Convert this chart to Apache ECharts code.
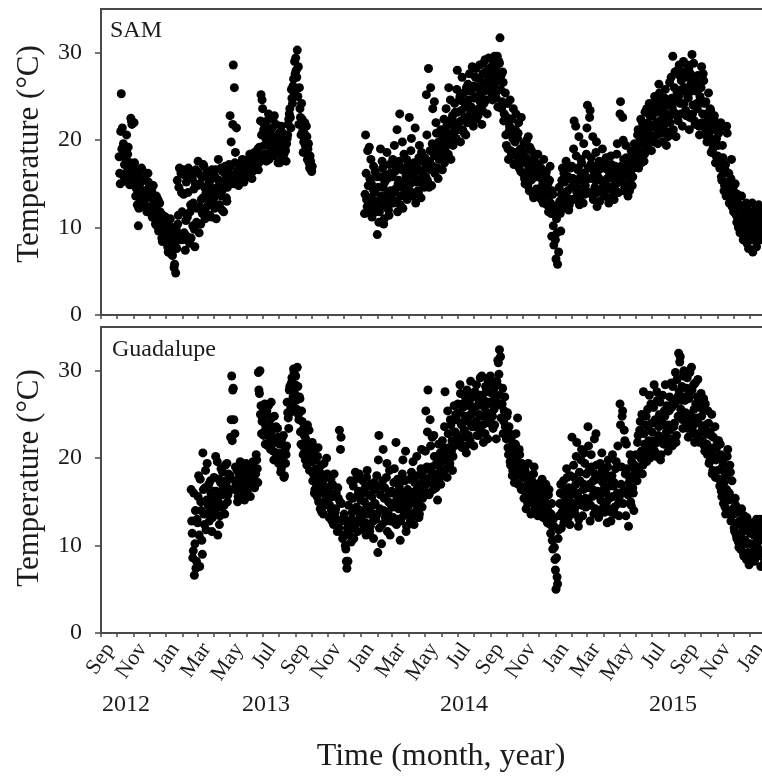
<!DOCTYPE html>
<html>
<head>
<meta charset="utf-8">
<script src="https://cdn.jsdelivr.net/npm/echarts@6/dist/echarts.min.js"></script>
<style>
  html, body { margin: 0; padding: 0; background: #fff; overflow: hidden; }
  /* the plot frame runs past the right edge of the window */
  #chart { width: 772px; height: 777px; }
</style>
</head>
<body>
<div id="chart"></div>
<script>
// Water temperature readings. Each list holds one value every STEP_DAYS days
// from its start date; the "…2" lists hold the readings of the days in between.
const STEP_DAYS = 2;

const panelNames = ['SAM', 'Guadalupe'];
const monthNames = ['Jan', 'Feb', 'Mar', 'Apr', 'May', 'Jun', 'Jul', 'Aug', 'Sep', 'Oct', 'Nov', 'Dec'];
const yearLabels = ['2012', '2013', '2014', '2015'];
const yTicks = [0, 10, 20, 30];
const axisStartDate = '2012-09-01';
const axisEndDate = '2016-02-11';

// SAM, first deployment
const samStartA = '2012-10-05';
const samTempsA = [
  18.1, 15.0, 25.3, 21.4, 19.6, 17.2, 15.3, 20.6, 18.4, 16.6, 14.9, 22.5, 21.8, 17.0,
  22.0, 16.4, 14.5, 12.6, 10.2, 15.8, 13.2, 16.8, 14.0, 12.4, 15.6, 13.8, 11.8, 16.2, 14.6,
  12.0, 13.4, 11.2, 14.8, 12.6, 10.4, 13.6, 11.6, 9.6, 12.8, 10.8, 8.8, 11.4, 9.2, 10.6,
  8.4, 10.2, 7.2, 9.6, 11.0, 8.0, 6.8, 9.0, 5.8, 4.8, 7.6, 10.4, 14.6, 8.6, 16.2, 11.8,
  16.6, 9.4, 7.4, 15.2, 11.2, 16.8, 8.2, 12.6, 16.4, 10.2, 14.4, 7.8, 16.6, 12.2,
  17.6, 9.4, 15.0, 13.2, 11.6, 17.2, 14.6, 12.2, 16.0, 13.8, 15.4, 11.4, 14.2, 16.6, 12.8,
  13.4, 15.8, 11.0, 14.6, 17.8, 12.6, 15.2, 13.6, 16.4, 11.8, 14.8, 16.0, 13.0, 15.6, 17.2,
  22.8, 19.8, 15.6, 28.6, 26.0, 18.6, 21.4, 16.2, 14.8, 17.0, 15.4, 16.6, 17.6, 15.2, 16.8, 17.4,
  16.0, 17.8, 15.8, 16.6, 18.2, 16.4, 17.2, 18.6, 16.8, 17.6, 19.0, 17.4, 18.0, 25.2, 24.6,
  22.0, 19.4, 21.6, 17.6, 20.8, 23.0, 18.6, 21.2, 19.8, 22.4, 18.2, 20.4, 21.8, 19.2, 17.4,
  20.8, 18.6, 21.6, 19.4, 17.8, 20.2, 18.8, 19.6, 20.6, 22.4, 23.6, 21.4, 24.8, 26.2, 25.4, 27.6,
  28.0, 30.3, 28.4, 26.0, 22.6, 24.2, 21.0, 19.8, 22.0, 18.8, 20.4, 19.0, 17.4, 18.2, 16.6,
  17.0
];
const samStartA2 = '2012-10-06';
const samTempsA2 = [
  16.2, 21.0, 19.0, 16.0, 18.6, 15.6, 17.8, 16.4, 19.2, 15.8, 17.4, 22.2, 16.8,
  15.2, 17.4, 13.6, 16.0, 14.8, 12.2, 15.0, 13.0, 16.6, 12.8, 14.2, 15.4, 13.4, 12.4, 15.2,
  13.8, 11.8, 14.2, 12.2, 13.0, 11.0, 12.4, 10.2, 13.2, 9.8, 11.8, 10.0, 8.4, 10.8, 9.0, 11.2,
  9.4, 7.8, 10.8, 8.8, 7.0, 10.0, 7.4, 5.4, 8.2, 9.8, 15.4, 11.4, 16.8, 9.2, 14.0,
  8.6, 13.8, 16.0, 10.8, 9.0, 14.0, 16.2, 11.8, 8.8, 15.6, 12.8, 9.8, 15.0, 10.6,
  14.8, 16.2, 12.4, 10.4, 15.8, 13.4, 17.0, 11.0, 14.0, 16.4, 12.6, 15.0, 13.0, 11.2, 15.6, 14.4,
  12.2, 16.6, 14.2, 12.4, 15.4, 13.8, 16.8, 12.0, 14.4, 15.0, 17.0, 13.4, 14.6, 16.2, 15.0,
  17.0, 16.0, 21.8, 15.0, 17.4, 15.8, 16.4, 15.0, 17.2, 16.0, 15.6, 17.8, 16.2, 17.0, 15.8,
  17.4, 16.2, 17.0, 18.4, 17.2, 15.6, 17.8, 16.6, 18.2, 17.0, 18.6, 16.6, 19.2, 22.2, 20.6,
  23.6, 21.2, 18.4, 20.2, 22.2, 19.6, 17.8, 20.6, 18.8, 21.4, 19.0, 22.8, 18.4, 20.0, 18.6, 19.4,
  17.4, 19.8, 18.2, 20.8, 18.4, 19.2, 17.6, 20.2, 21.8, 23.0, 22.6, 25.8, 24.2, 27.0, 29.0,
  29.4, 27.2, 25.0, 21.8, 23.6, 20.6, 22.4, 18.6, 20.8, 19.4, 21.6, 17.8, 19.6, 16.8, 17.6,
  16.4
];

// SAM, second deployment
const samStartB = '2014-01-08';
const samTempsB = [
  11.6, 20.6, 13.2, 18.8, 12.0, 15.6, 17.8, 11.2, 14.4, 12.6, 16.4, 13.0,
  9.2, 14.6, 11.8, 19.0, 13.6, 16.8, 10.4, 15.2, 12.4, 18.6, 14.0, 11.4, 16.2, 13.4,
  15.8, 12.8, 19.4, 14.4, 17.0, 11.8, 15.4, 23.0, 13.6, 16.6, 12.2, 18.4, 14.8, 16.0, 13.2, 17.4,
  22.6, 15.0, 20.2, 13.8, 17.2, 15.6, 12.8, 16.4, 14.2, 18.0, 15.4, 13.4, 17.6, 16.2, 14.6,
  16.8, 25.2, 15.4, 28.2, 17.6, 26.0, 14.8, 23.6, 18.4, 16.2, 22.0, 19.0, 15.6, 17.8, 19.6,
  18.2, 16.6, 20.4, 17.4, 19.2, 21.6, 18.0, 26.0, 20.0, 17.8, 22.4, 19.4, 21.0, 23.2, 20.2,
  28.0, 22.0, 24.6, 19.8, 23.4, 21.2, 25.4, 22.6, 20.6, 24.0, 26.4, 22.8, 25.6, 23.8, 28.4, 21.6,
  24.8, 27.2, 22.4, 26.0, 23.6, 28.6, 25.2, 21.8, 27.6, 24.2, 29.2, 26.6, 23.0, 28.0, 25.8,
  26.0, 28.4, 24.6, 27.2, 29.6, 25.4, 28.6, 23.8, 29.0, 31.7, 27.4, 24.4, 26.6, 23.0, 25.4,
  19.4, 24.2, 17.8, 21.6, 18.8, 22.4, 20.2, 17.2, 19.8, 23.0, 18.2, 20.8, 16.8, 19.0, 22.6, 17.6,
  18.6, 15.6, 17.4, 20.0, 14.8, 16.8, 19.2, 15.4, 17.8, 13.8, 16.4, 18.2, 14.4, 15.8, 17.2,
  14.0, 16.6, 13.2, 15.4, 17.8, 14.6, 16.0, 12.6, 15.0, 13.6, 17.0, 11.6, 14.2, 10.2, 12.4,
  8.6, 11.0, 5.8, 7.2, 13.0, 9.6, 15.4, 12.2, 16.2, 14.0, 17.6, 13.4, 15.8, 12.6, 16.8, 14.6,
  13.2, 19.0, 15.2, 21.6, 14.0, 16.6, 20.4, 13.6, 17.8, 15.4, 12.8, 16.2, 14.8, 18.4,
  24.0, 15.6, 22.6, 17.2, 13.8, 20.4, 16.4, 14.6, 18.6, 12.4, 15.8, 17.6, 14.2, 16.8, 19.0,
  15.2, 13.6, 17.4, 14.8, 16.6, 12.8, 15.8, 18.2, 14.4, 16.2, 13.2, 17.0, 15.0, 19.6, 14.0,
  16.4, 24.4, 15.2, 22.6, 17.8, 14.6, 19.4, 16.0, 13.6, 17.2, 15.4, 18.8, 14.8, 16.8, 19.6, 17.4,
  18.6, 20.6, 16.8, 19.8, 22.4, 18.2, 21.0, 17.6, 23.2, 20.2, 19.0, 22.0, 24.2, 20.6, 18.8,
  22.8, 20.0, 25.0, 21.4, 23.8, 19.6, 26.4, 22.2, 24.6, 20.8, 23.4, 21.8, 25.8, 19.4, 24.0,
  22.6, 26.6, 21.0, 24.8, 29.6, 23.2, 27.8, 20.4, 25.4, 22.2, 28.6, 24.2, 26.8, 21.6, 29.0, 25.6,
  23.4, 27.2, 25.0, 28.2, 22.6, 26.4, 29.8, 24.0, 27.0, 21.8, 25.6, 23.6, 26.2, 20.6, 24.6,
  28.4, 23.0, 26.8, 21.4, 24.4, 19.8, 22.6, 20.6, 23.6, 18.6, 21.2, 19.4, 22.8, 17.4, 20.2,
  18.2, 20.8, 16.8, 22.0, 15.4, 18.0, 14.2, 16.6, 13.6, 20.8, 15.2, 12.8, 14.6, 17.8, 13.2,
  11.8, 14.0, 12.4, 10.6, 13.4, 11.2, 9.4, 12.2, 10.4, 8.6, 11.6, 9.8, 12.8, 10.2, 7.6, 11.0,
  9.0, 10.8, 7.2, 11.4, 9.6, 12.2, 8.4, 10.2, 11.8, 9.2, 10.6, 12.4, 8.8, 11.2, 10.0,
  11.6, 9.6, 12.0, 10.4, 11.0, 9.8
];
const samStartB2 = '2014-01-09';
const samTempsB2 = [
  13.8, 16.2, 12.4, 14.8, 19.2, 13.4, 15.0, 12.8, 17.0, 14.0, 11.8, 15.8,
  13.0, 10.6, 15.8, 12.6, 17.6, 14.6, 11.0, 16.0, 13.2, 15.6, 12.0, 17.2, 14.2, 12.8,
  17.8, 14.0, 16.4, 13.0, 21.2, 15.0, 17.6, 12.6, 14.6, 19.8, 16.8, 13.8, 15.6, 17.8, 14.8,
  16.6, 14.2, 18.8, 16.0, 13.6, 17.4, 21.4, 15.2, 16.8, 14.0, 19.4, 16.4, 18.6, 15.0, 17.8,
  18.0, 15.8, 20.6, 17.2, 14.6, 18.8, 16.6, 19.6, 17.0, 24.4, 18.2, 20.8, 16.8, 19.8, 18.6, 21.2,
  20.6, 18.8, 22.4, 19.6, 23.6, 20.8, 18.4, 21.8, 24.6, 19.8, 22.8, 20.4, 24.2, 21.8, 25.8,
  23.2, 21.2, 25.0, 22.2, 27.2, 24.4, 20.8, 23.8, 26.0, 22.0, 24.6, 27.6, 23.4, 25.8, 22.2,
  26.2, 23.2, 28.2, 25.0, 22.8, 27.0, 24.4, 26.4, 23.4, 28.8, 25.6, 27.8, 24.6, 26.8, 29.4, 27.0,
  27.4, 25.2, 29.2, 26.2, 28.0, 24.8, 29.6, 26.8, 28.8, 25.8, 23.6, 27.8, 22.2, 24.2, 20.6,
  22.6, 19.0, 21.0, 24.6, 18.2, 20.6, 23.6, 18.6, 21.2, 17.4, 20.2, 22.0, 18.0, 16.4, 18.8,
  16.2, 19.6, 15.0, 18.0, 16.0, 20.4, 14.2, 17.0, 18.8, 15.6, 13.4, 17.6, 16.6, 14.0, 18.4,
  15.8, 13.4, 16.8, 14.8, 12.8, 15.6, 13.8, 16.4, 14.4, 11.8, 15.4, 12.8, 9.0, 13.8, 8.0, 11.6,
  6.4, 9.4, 12.2, 14.6, 11.6, 13.8, 16.8, 12.8, 15.2, 13.6, 17.0, 14.2, 12.0, 15.6, 13.2,
  17.0, 15.6, 22.2, 13.2, 18.2, 14.6, 16.8, 12.6, 15.8, 17.4, 14.0, 19.6, 13.8, 15.8,
  21.4, 16.8, 14.0, 23.4, 18.0, 15.6, 13.2, 17.0, 15.4, 19.8, 14.0, 16.6, 13.0, 15.4, 17.4, 14.6,
  16.8, 14.2, 18.0, 15.6, 13.4, 16.4, 14.6, 17.2, 15.6, 13.8, 16.8, 14.2, 18.4, 15.4, 16.2,
  23.0, 17.0, 15.8, 20.0, 14.2, 16.6, 18.0, 15.0, 17.4, 14.2, 16.2, 18.0, 15.8, 17.6, 18.4,
  19.4, 17.6, 21.2, 18.8, 20.4, 17.4, 22.0, 19.6, 18.4, 21.6, 23.6, 19.2, 21.4, 22.8, 20.0,
  21.6, 23.4, 19.8, 24.6, 22.0, 20.6, 23.2, 25.4, 21.2, 23.8, 19.8, 22.6, 24.8, 21.0, 23.0, 20.4,
  24.2, 22.0, 27.2, 23.8, 21.2, 26.0, 24.6, 22.8, 28.0, 25.0, 27.4, 23.0, 25.8, 27.8, 24.2,
  26.0, 22.8, 28.6, 24.8, 21.2, 27.6, 25.6, 23.0, 28.8, 22.2, 26.6, 24.2, 27.4, 21.6, 25.0,
  26.0, 22.0, 27.6, 24.2, 20.6, 23.0, 21.8, 25.4, 20.0, 23.4, 21.6, 19.0, 22.4, 20.0, 18.2, 21.6,
  19.4, 17.2, 21.4, 15.8, 19.4, 16.2, 14.8, 17.2, 21.6, 14.0, 16.2, 13.6, 15.6, 12.4, 14.6,
  12.8, 15.0, 11.4, 13.8, 10.0, 12.6, 11.0, 13.6, 9.2, 11.2, 12.6, 10.6, 8.2, 12.0, 9.6,
  11.0, 8.6, 12.8, 10.4, 9.2, 11.6, 7.8, 10.8, 12.6, 9.8, 11.4, 8.6, 12.0, 10.4, 9.6, 11.8,
  10.2, 12.2, 9.4, 11.2, 10.6
];

// Guadalupe
const guaStart = '2013-02-17';
const guaTemps = [
  16.4, 11.4, 9.4, 6.6, 14.0, 8.2,
  12.6, 18.0, 7.6, 15.0, 10.6, 20.6, 13.6, 16.6, 11.8, 19.4, 14.6, 12.8, 17.4, 15.6, 13.2, 16.2,
  14.2, 20.2, 15.4, 11.2, 17.6, 13.4, 18.8, 15.8, 16.8, 14.6, 19.2, 17.2, 15.0, 18.2, 16.4,
  22.4, 29.4, 27.8, 24.4, 22.8, 17.0, 18.6, 15.6, 17.8, 19.6, 16.2, 18.2, 17.0, 15.2, 18.8,
  17.6, 16.4, 19.2, 17.2, 18.4, 16.8, 19.6, 18.0, 17.4, 20.4, 18.8, 29.8, 27.4, 25.0, 22.8,
  24.6, 22.6, 26.2, 23.6, 25.4, 21.4, 24.0, 22.2, 26.4, 23.2, 20.8, 24.8, 22.0, 20.2, 23.4, 19.4,
  21.6, 18.4, 22.2, 19.8, 17.8, 21.0, 20.4, 26.4, 24.6, 27.8, 25.2, 28.6, 26.0, 30.2, 27.4,
  29.4, 25.6, 28.2, 24.4, 26.8, 21.6, 24.2, 20.4, 22.6, 19.8, 21.8, 23.8, 20.2, 18.6, 21.0,
  19.6, 17.4, 20.6, 16.4, 18.8, 15.6, 21.2, 17.8, 14.2, 19.2, 16.8, 13.6, 18.0, 15.2, 20.0, 16.0,
  16.4, 14.6, 17.6, 12.8, 15.6, 18.2, 13.8, 16.0, 11.6, 15.4, 23.2, 21.0, 14.8, 10.8, 13.2,
  11.2, 9.6, 7.4, 8.2, 12.6, 15.6, 10.4, 13.8, 16.8, 12.0, 18.4, 14.4, 11.6, 16.2, 13.2,
  15.2, 12.6, 17.4, 14.0, 16.6, 11.2, 18.6, 13.6, 15.8, 12.2, 17.0, 14.6, 10.8, 16.4, 13.0, 18.0,
  9.2, 22.6, 14.2, 16.8, 12.4, 21.0, 15.4, 13.2, 17.8, 11.6, 15.0, 18.6, 12.8, 16.2,
  14.4, 17.2, 12.6, 21.8, 15.6, 13.0, 16.8, 10.6, 14.8, 18.2, 13.4, 15.8, 20.8, 12.2, 16.4,
  14.6, 17.6, 13.2, 15.8, 19.6, 12.4, 16.2, 14.0, 18.0, 15.0, 13.6, 17.0, 21.0, 15.4, 18.6,
  16.8, 25.4, 19.0, 27.8, 15.8, 24.4, 18.0, 22.4, 16.4, 20.2, 17.6, 19.4, 15.2, 21.6, 18.4, 17.0,
  19.6, 18.2, 21.2, 27.6, 20.0, 17.8, 22.8, 19.0, 24.4, 20.8, 18.6, 23.0, 21.4, 25.0, 22.2,
  26.2, 22.0, 28.4, 24.0, 21.2, 25.8, 23.2, 27.0, 20.6, 24.8, 22.6, 26.6, 28.8, 23.6, 25.4,
  21.4, 27.6, 24.2, 22.6, 26.8, 25.0, 29.2, 23.0, 27.2, 21.8, 25.8, 28.2, 24.4, 22.2, 26.4, 28.6,
  24.6, 27.4, 23.4, 25.6, 26.8, 22.2, 28.4, 30.9, 32.4, 31.6, 26.0, 28.0, 24.2, 27.0, 25.0,
  24.8, 21.2, 23.6, 19.6, 22.2, 18.0, 20.8, 17.2, 21.6, 19.0, 24.6, 18.4, 20.4, 16.8, 19.4,
  17.8, 15.4, 18.6, 14.2, 16.8, 19.4, 15.0, 17.2, 13.8, 16.2, 18.2, 14.6, 15.8, 17.0, 13.4,
  16.4, 14.0, 15.6, 17.6, 13.2, 15.2, 16.8, 14.4, 12.6, 15.8, 13.6, 11.4, 14.8, 9.6, 12.2, 8.4,
  5.0, 6.4, 10.8, 13.4, 16.0, 12.0, 14.6, 17.4, 13.0, 15.4, 18.8, 14.2, 16.6, 12.4, 15.8,
  22.4, 14.8, 17.8, 13.6, 20.2, 16.0, 12.2, 18.4, 15.0, 21.0, 13.4, 17.0, 19.4, 14.4,
  16.6, 23.6, 18.6, 12.8, 20.4, 15.6, 17.4, 22.2, 14.2, 19.2, 16.2, 13.2, 18.0, 15.2, 20.6, 17.2,
  14.6, 18.4, 16.0, 12.6, 19.8, 15.4, 17.6, 13.8, 20.4, 16.8, 14.4, 18.8, 15.6, 21.4, 13.4,
  26.2, 17.0, 24.8, 14.8, 23.2, 18.2, 21.6, 16.4, 12.2, 17.8, 15.0, 19.6, 16.6, 14.0, 18.6,
  20.4, 17.4, 22.6, 19.0, 24.2, 20.8, 18.2, 27.6, 21.6, 23.8, 19.6, 25.6, 22.0, 20.0, 26.2,
  23.0, 21.2, 28.4, 24.4, 20.2, 26.6, 22.6, 25.0, 19.8, 23.8, 27.2, 21.6, 24.8, 22.2, 26.0, 20.8,
  25.4, 23.2, 28.6, 21.4, 26.4, 24.0, 29.8, 22.6, 27.0, 32.0, 31.0, 25.6, 28.2, 23.4, 30.0,
  26.6, 24.2, 29.2, 22.4, 27.4, 25.0, 30.4, 23.6, 28.4, 21.8, 26.2, 24.6, 29.0, 22.8, 25.8,
  27.4, 23.2, 25.6, 21.4, 26.2, 22.8, 20.4, 24.0, 19.6, 22.6, 25.0, 18.6, 21.2, 23.6, 19.8, 22.0,
  20.2, 17.6, 21.6, 16.2, 19.0, 14.8, 18.4, 13.6, 16.4, 21.0, 15.2, 19.2, 12.8, 17.4, 14.2,
  12.0, 15.4, 11.2, 13.8, 10.4, 12.8, 9.6, 14.2, 11.6, 8.8, 12.4, 10.2, 13.2, 9.2, 7.8,
  11.4, 9.0, 12.6, 10.0, 8.2, 11.8, 13.0, 9.8, 12.2, 10.6, 7.6, 11.0, 12.8, 9.4, 10.8, 12.0,
  10.4, 11.6, 9.8, 12.2, 10.8
];
const guaStart2 = '2013-02-18';
const guaTemps2 = [
  12.8, 8.6, 16.0, 10.2, 7.4, 13.0,
  15.6, 11.2, 17.6, 14.0, 9.0, 16.4, 12.4, 18.6, 15.2, 13.6, 17.0, 14.4, 16.0, 11.6, 15.0,
  17.8, 13.8, 16.2, 19.6, 15.0, 12.4, 17.2, 14.4, 18.4, 16.6, 13.6, 17.4, 19.4, 15.8, 17.6,
  18.0, 24.4, 22.0, 28.0, 16.4, 19.0, 17.4, 15.0, 18.4, 16.8, 19.2, 17.6, 15.8, 18.0, 16.6, 19.4,
  16.8, 18.4, 17.8, 15.6, 18.8, 17.6, 19.0, 16.6, 18.2, 19.8, 17.2, 27.8, 30.0, 26.0, 24.2,
  25.8, 23.0, 21.6, 25.0, 22.8, 26.0, 23.8, 21.0, 24.6, 22.4, 19.8, 21.8, 23.6, 20.6, 22.4,
  19.6, 21.8, 18.8, 20.6, 22.6, 18.0, 19.4, 21.4, 25.2, 23.4, 28.2, 25.8, 29.2, 27.0, 29.8, 28.4,
  26.6, 30.4, 25.0, 27.0, 23.0, 25.4, 21.4, 23.4, 20.8, 22.2, 19.2, 21.4, 23.2, 19.6, 20.2,
  21.8, 18.2, 16.0, 19.8, 17.0, 20.2, 15.0, 18.4, 16.0, 13.8, 17.4, 19.4, 14.6, 16.6, 18.2,
  15.2, 13.2, 16.8, 14.0, 17.0, 12.4, 15.8, 14.2, 13.0, 16.6, 12.0, 15.0, 22.4, 12.8, 11.2,
  13.6, 10.0, 8.2, 12.0, 14.6, 11.2, 17.4, 13.0, 15.4, 10.8, 14.0, 17.6, 12.6, 15.8, 18.2, 14.0,
  13.2, 16.0, 11.8, 15.0, 12.6, 17.8, 14.4, 16.8, 11.6, 13.8, 15.6, 12.8, 17.2, 14.8, 16.6,
  13.6, 19.8, 12.0, 15.8, 10.2, 17.4, 14.0, 16.6, 12.8, 19.4, 13.8, 16.0, 11.2, 14.6,
  16.0, 13.2, 18.8, 15.0, 12.4, 17.6, 14.2, 16.4, 12.8, 15.4, 19.8, 14.0, 17.4, 11.6, 15.2, 13.8,
  16.0, 12.8, 18.4, 15.2, 13.6, 17.2, 14.8, 20.2, 16.6, 13.2, 15.6, 18.8, 14.4, 17.8, 16.2,
  20.8, 17.4, 23.0, 18.8, 16.0, 21.4, 19.0, 17.0, 22.6, 18.2, 16.6, 20.2, 19.2, 17.6, 20.6,
  18.6, 22.0, 19.8, 23.6, 20.8, 18.8, 25.4, 21.2, 19.4, 23.8, 22.0, 20.2, 26.0, 23.0, 24.4,
  22.6, 25.2, 21.8, 27.4, 23.8, 26.2, 22.4, 24.8, 21.4, 27.8, 24.2, 26.0, 22.0, 25.0, 27.2, 23.6,
  25.8, 23.6, 28.4, 26.0, 22.6, 27.2, 24.8, 29.4, 23.8, 26.6, 22.8, 27.6, 25.2, 28.8, 24.0,
  29.4, 26.2, 24.8, 27.8, 23.8, 26.4, 28.8, 31.2, 29.6, 27.2, 24.6, 26.2, 22.8, 25.4, 23.6,
  22.2, 25.2, 20.4, 22.8, 19.2, 21.4, 18.6, 20.2, 17.8, 22.8, 19.6, 17.0, 21.0, 18.6, 16.4, 18.0,
  16.6, 19.0, 15.6, 17.6, 14.8, 18.0, 16.2, 13.6, 17.4, 15.4, 19.0, 14.2, 16.6, 13.8, 15.2,
  15.0, 17.2, 14.4, 16.2, 13.8, 15.4, 17.0, 12.8, 14.0, 16.4, 12.4, 13.6, 10.6, 13.0, 9.8,
  7.2, 8.6, 5.6, 11.8, 14.8, 17.0, 13.8, 15.8, 12.6, 16.4, 14.0, 17.8, 13.2, 15.0, 18.0, 13.6,
  16.4, 19.2, 14.2, 17.0, 21.8, 15.6, 13.0, 17.4, 19.8, 14.6, 16.4, 20.6, 15.4, 18.2,
  15.0, 21.4, 17.0, 14.6, 19.0, 16.4, 13.6, 18.2, 22.8, 15.8, 17.6, 14.0, 19.4, 16.0, 18.6,
  16.4, 13.8, 17.8, 15.0, 19.0, 14.2, 16.8, 12.8, 18.0, 15.6, 17.2, 13.6, 19.6, 16.0, 14.8,
  15.6, 23.8, 19.0, 25.4, 16.2, 22.0, 13.4, 18.8, 15.8, 17.2, 20.4, 14.6, 18.0, 16.0, 19.2, 17.6,
  19.0, 21.8, 18.4, 23.2, 20.0, 25.0, 19.2, 22.8, 21.0, 24.8, 20.4, 23.6, 27.2, 21.2, 24.0,
  22.0, 25.8, 20.8, 24.0, 27.6, 21.8, 23.6, 26.4, 20.4, 24.4, 22.2, 25.4, 28.4, 23.0, 21.6,
  23.8, 27.0, 22.2, 25.8, 28.2, 23.6, 26.2, 21.8, 29.0, 24.8, 27.6, 31.6, 26.6, 24.4, 29.4, 27.0,
  25.2, 28.0, 23.4, 26.8, 29.8, 24.4, 27.8, 23.0, 25.6, 28.6, 22.6, 27.0, 24.0, 21.8, 26.4,
  24.8, 22.0, 26.8, 20.8, 23.8, 21.6, 25.4, 19.4, 23.0, 20.8, 18.2, 22.4, 20.2, 17.8, 21.2,
  18.6, 22.0, 16.8, 20.4, 15.6, 19.6, 17.2, 14.4, 18.0, 20.2, 13.8, 16.0, 18.4, 13.4, 15.4,
  13.6, 11.6, 14.6, 10.8, 12.6, 9.8, 13.8, 11.0, 12.2, 9.2, 13.4, 10.6, 8.4, 11.8, 12.6, 8.8,
  10.2, 12.2, 8.6, 11.2, 9.4, 12.4, 10.6, 8.8, 11.6, 13.0, 9.2, 10.8, 12.4, 8.2, 11.4,
  11.2, 9.6, 12.6, 10.2, 11.8
];

// ---- helpers ----
function dayTime(dateStr, addDays) {
  const p = dateStr.split('-').map(Number);
  return new Date(p[0], p[1] - 1, p[2] + addDays).getTime();
}
function toPoints(start, temps) {
  return temps.map((t, i) => [dayTime(start, i * STEP_DAYS), t]);
}

const xMin = dayTime(axisStartDate, 0);
const xMax = dayTime(axisEndDate, 0);

// month ticks, and a label on every other month starting in September
const monthTicks = [];
const monthLabelTicks = [];
{
  const s = new Date(xMin);
  for (let k = 0; ; k++) {
    const t = new Date(s.getFullYear(), s.getMonth() + k, 1).getTime();
    if (t > xMax) break;
    monthTicks.push(t);
    if (k % 2 === 0) monthLabelTicks.push(t);
  }
}

const FONT = '"Liberation Serif", "Times New Roman", serif';
const AXIS = '#4a4a4a';
const TEXT = '#1c1c1c';

const gridTops = [9, 327];
const gridHeight = 306;

// the time axis is drawn as a numeric axis over millisecond timestamps
function makeX(idx, withLabels) {
  return {
    type: 'value', gridIndex: idx, min: xMin, max: xMax, scale: true,
    axisLine: { show: true, onZero: false, lineStyle: { color: AXIS, width: 2 } },
    axisTick: { show: true, inside: false, length: 4, customValues: monthTicks,
                lineStyle: { color: AXIS, width: 1.5 } },
    axisLabel: withLabels ? {
      show: true, customValues: monthLabelTicks, rotate: 55, margin: 6,
      verticalAlign: 'top',
      fontFamily: FONT, fontSize: 22, color: TEXT,
      formatter: v => monthNames[new Date(v).getMonth()]
    } : { show: false },
    splitLine: { show: false }
  };
}
function makeY(idx) {
  return {
    type: 'value', gridIndex: idx, min: 0, max: 35,
    axisLine: { show: true, onZero: false, lineStyle: { color: AXIS, width: 2 } },
    axisTick: { show: true, inside: false, length: 6, customValues: yTicks,
                lineStyle: { color: AXIS, width: 1.5 } },
    axisLabel: { customValues: yTicks, margin: 19, fontFamily: FONT, fontSize: 24, color: TEXT },
    splitLine: { show: false }
  };
}

const dotStyle = { color: '#000', opacity: 1 };

const chart = echarts.init(document.getElementById('chart'));
chart.setOption({
  animation: false,
  backgroundColor: '#fff',
  grid: gridTops.map(t => ({
    left: 101, right: 0, top: t, height: gridHeight,
    show: true, borderColor: AXIS, borderWidth: 2, backgroundColor: 'transparent'
  })),
  xAxis: [makeX(0, false), makeX(1, true)],
  yAxis: [makeY(0), makeY(1)],
  series: [
    {
      name: panelNames[0], type: 'scatter', xAxisIndex: 0, yAxisIndex: 0,
      symbol: 'circle', symbolSize: 9, itemStyle: dotStyle, large: false,
      data: toPoints(samStartA, samTempsA)
        .concat(toPoints(samStartA2, samTempsA2))
        .concat(toPoints(samStartB, samTempsB))
        .concat(toPoints(samStartB2, samTempsB2))
    },
    {
      name: panelNames[1], type: 'scatter', xAxisIndex: 1, yAxisIndex: 1,
      symbol: 'circle', symbolSize: 9, itemStyle: dotStyle, large: false,
      data: toPoints(guaStart, guaTemps).concat(toPoints(guaStart2, guaTemps2))
    }
  ],
  graphic: [
    { type: 'text', left: 110, top: 19, style: { text: panelNames[0], font: '24px ' + FONT, fill: TEXT } },
    { type: 'text', left: 112, top: 338, style: { text: panelNames[1], font: '24px ' + FONT, fill: TEXT } },
    { type: 'text', x: 30, y: 154, rotation: Math.PI / 2,
      style: { text: 'Temperature (°C)', font: '31px ' + FONT, fill: TEXT, align: 'center', verticalAlign: 'middle' } },
    { type: 'text', x: 30, y: 478, rotation: Math.PI / 2,
      style: { text: 'Temperature (°C)', font: '31px ' + FONT, fill: TEXT, align: 'center', verticalAlign: 'middle' } },
    { type: 'text', x: 441, y: 757,
      style: { text: 'Time (month, year)', font: '32px ' + FONT, fill: TEXT, align: 'center', verticalAlign: 'middle' } }
  ].concat(yearLabels.map((y, i) => ({
    type: 'text', x: [126, 266, 464, 673][i], y: 705,
    style: { text: y, font: '24px ' + FONT, fill: TEXT, align: 'center', verticalAlign: 'middle' }
  })))
});
</script>
</body>
</html>
